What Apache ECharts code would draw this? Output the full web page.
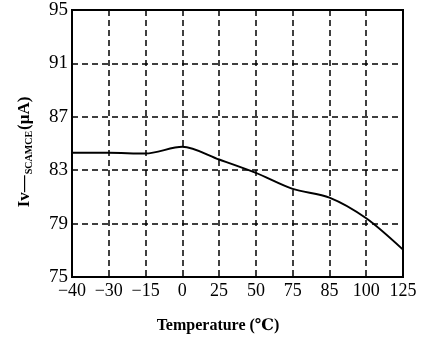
<!DOCTYPE html>
<html>
<head>
<meta charset="utf-8">
<script src="https://cdn.jsdelivr.net/npm/echarts@6/dist/echarts.min.js"></script>
<style>html,body{margin:0;padding:0;background:#fff}#c{width:439px;height:345px}</style>
</head>
<body>
<div id="c"></div>
<script>
var categories = ['-40', '-30', '-15', '0', '25', '50', '75', '85', '100', '125'];
var ivValues = [84.3, 84.3, 84.25, 84.75, 83.8, 82.8, 81.6, 80.95, 79.4, 77.05];
var yTicks = { min: 75, max: 95, interval: 4 };

var chart = echarts.init(document.getElementById('c'), null, { renderer: 'canvas' });
var serif = '"Liberation Serif", "DejaVu Serif", serif';
chart.setOption({
  animation: false,
  backgroundColor: '#fff',
  grid: { left: 72, right: 36, top: 10, bottom: 68, show: true, borderColor: '#000', borderWidth: 2, backgroundColor: 'transparent' },
  xAxis: {
    type: 'category',
    data: categories,
    boundaryGap: false,
    axisLine: { show: true, lineStyle: { color: '#000', width: 2 } },
    axisTick: { show: false },
    axisLabel: {
      interval: 0, hideOverlap: false,
      color: '#000', fontFamily: serif, fontSize: 18, margin: 5,
      formatter: function (v) { return v.replace('-', '\u2212'); }
    },
    splitLine: { show: true, interval: 0, lineStyle: { color: '#000', width: 1.5, type: [6, 4] } }
  },
  yAxis: {
    type: 'value',
    min: yTicks.min, max: yTicks.max, interval: yTicks.interval,
    axisLine: { show: true, lineStyle: { color: '#000', width: 2 } },
    axisTick: { show: false },
    axisLabel: { color: '#000', fontFamily: serif, fontSize: 19, margin: 4 },
    splitLine: { show: true, lineStyle: { color: '#000', width: 1.5, type: [6, 4] } }
  },
  series: [{
    type: 'line',
    data: ivValues,
    smooth: 0.3,
    symbol: 'none',
    lineStyle: { color: '#000', width: 2 }
  }],
  graphic: [
    {
      type: 'text',
      x: 25, y: 152,
      rotation: Math.PI / 2,
      style: {
        text: '{a|Iv\u2014}{b|SCAMCE}{a|(\u03bcA)}',
        align: 'center', verticalAlign: 'middle',
        rich: {
          a: { fontFamily: serif, fontSize: 17, fontWeight: 'bold', fill: '#000' },
          b: { fontFamily: serif, fontSize: 10, fontWeight: 'bold', fill: '#000', verticalAlign: 'bottom', padding: [8, 1, 0, 1] }
        }
      }
    },
    {
      type: 'text',
      x: 218, y: 326,
      style: {
        text: 'Temperature (\u2103)',
        align: 'center', verticalAlign: 'middle',
        fontFamily: serif, fontSize: 16, fontWeight: 'bold', fill: '#000'
      }
    }
  ]
});
</script>
</body>
</html>
